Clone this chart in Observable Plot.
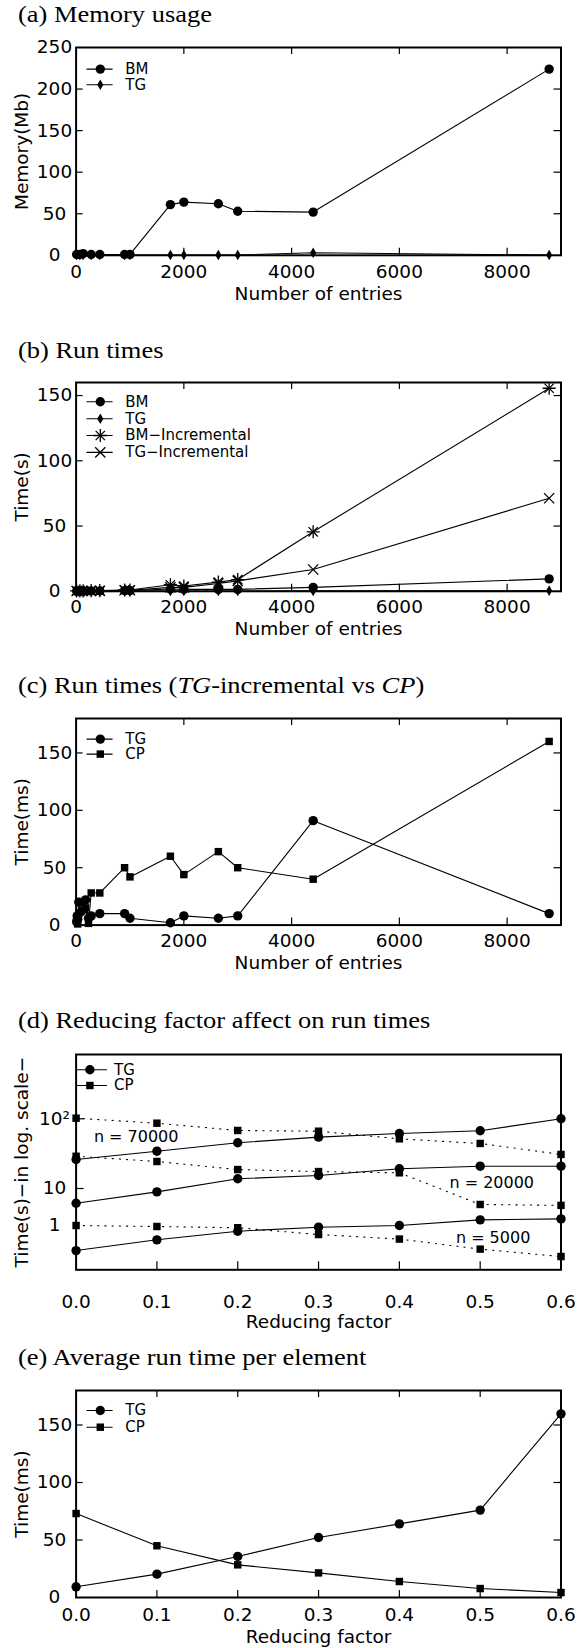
<!DOCTYPE html>
<html><head><meta charset="utf-8">
<script src="https://cdn.jsdelivr.net/npm/d3@7"></script>
<script src="https://cdn.jsdelivr.net/npm/@observablehq/plot@0.6"></script>
<style>
body{margin:0;background:#fff;}
#page{position:relative;width:584px;height:1648px;overflow:hidden;background:#fff;}
.title{position:absolute;left:18px;font-family:"Liberation Serif","Times New Roman",serif;font-size:23px;line-height:24px;white-space:nowrap;color:#000;transform:scaleX(1.15);transform-origin:0 50%;}
.panel{position:absolute;left:0;}
.panel svg{display:block;}
</style></head><body><div id="page"></div>
<script>
// ---------- data ----------
const entries = [10, 70, 130, 280, 440, 900, 1000, 1750, 2000, 2640, 3000, 4400, 8780];
const memoryBM = [1, 1, 2, 1, 1, 1, 1, 61, 64, 62, 53, 52, 224];
const memoryTG = [0.3, 0.3, 0.3, 0.3, 0.3, 0.3, 0.3, 0.3, 0.3, 0.3, 0.3, 3, 0.3];

const runBM = [0.2, 0.2, 0.2, 0.3, 0.3, 0.5, 0.5, 1.8, 1.5, 1.5, 1.5, 3, 9.5];
const runTG = [0.1, 0.1, 0.1, 0.1, 0.1, 0.1, 0.1, 0.2, 0.2, 0.2, 0.2, 0.3, 0.5];
const runBMIncremental = [0.3, 0.3, 0.3, 0.5, 0.5, 1, 1, 5, 4, 7, 9, 45.6, 155.6];
const runTGIncremental = [0.2, 0.2, 0.2, 0.3, 0.3, 0.8, 0.8, 3, 3, 6, 8, 16.7, 71.3];

const entriesC = [10, 20, 30, 50, 100, 175, 230, 280, 440, 900, 1000, 1750, 2000, 2640, 3000, 4400, 8780];
const timeTG_C = [3, 8, 5, 20, 12, 22, 6, 8, 10, 10, 6, 2, 8, 6, 8, 91, 10];
const timeCP_C = [3, 5, 1, 10, 20, 15, 1.5, 28, 28, 50, 42, 60, 44, 64, 50, 40, 160];

const factors = [0, 0.1, 0.2, 0.3, 0.4, 0.5, 0.6];
const tg70000 = [26.1, 34.3, 45.3, 54.5, 61.5, 67.3, 100];
const cp70000 = [102, 86.5, 68, 66.4, 51.6, 44.3, 30.8];
const tg20000 = [4.0, 8.1, 13.8, 15.4, 19.2, 20.9, 20.9];
const cp20000 = [29, 24.4, 18.7, 17.5, 16.8, 3.7, 3.5];
const tg5000 = [0.21, 0.41, 0.70, 0.90, 1.0, 1.42, 1.51];
const cp5000 = [1.0, 0.94, 0.87, 0.57, 0.43, 0.23, 0.145];
const nLabels = ["n = 70000", "n = 20000", "n = 5000"];
const nLabelX = [0.022, 0.462, 0.470];
const nLabelY = [55.8, 12.1, 0.465];

const avgTG = [9.3, 20.3, 35.7, 52.2, 64, 76, 159.7];
const avgCP = [73, 45, 28.4, 21.4, 13.9, 7.8, 4.3];

const entryTicks = [0, 2000, 4000, 6000, 8000];
const factorTicks = [0, 0.1, 0.2, 0.3, 0.4, 0.5, 0.6];
const logTicks = [1, 10, 100];

// ---------- helpers ----------
const W = 584, ML = 75.6, MR = 23.5, MT = 10;
const FONT = "'DejaVu Sans', 'Liberation Sans', Arial, sans-serif";
const FS = 18.5;
const zip = (xs, ys) => xs.map((x, i) => ({x, y: ys[i]}));
const hline = {draw(ctx, l) { ctx.moveTo(0, 0); ctx.lineTo(l, 0); }};
const plain = d => String(d);

const SYM = {
  circle: [{symbol: "circle", r: 4.7, fill: "black"}],
  diamond: [{symbol: "diamond", r: 3.2, fill: "black"}],
  square: [{symbol: "square", r: 4.2, fill: "black"}],
  star: [{symbol: "plus", r: 4.3, fill: "none", stroke: "black"}, {symbol: "times", r: 4.3, fill: "none", stroke: "black"}],
  times: [{symbol: "times", r: 4.7, fill: "none", stroke: "black"}]
};

function panel(o) {
  const frameH = o.frameBottom - o.frameTop;
  const frameW = W - ML - MR;
  const height = MT + frameH + o.mb;
  const tl = o.tickLen ?? 7;
  const tk = {stroke: "black", strokeWidth: 1.2};
  const marks = [];
  if (o.xIn) marks.push(Plot.tickX(o.xIn, {x: d => d, insetTop: frameH - tl, ...tk}));
  if (o.xInTop) marks.push(Plot.tickX(o.xInTop, {x: d => d, insetBottom: frameH - tl, ...tk}));
  if (o.yIn) marks.push(Plot.tickY(o.yIn, {y: d => d, insetRight: frameW - tl, ...tk}));
  if (o.yInRight) marks.push(Plot.tickY(o.yInRight, {y: d => d, insetLeft: frameW - tl, ...tk}));
  marks.push(Plot.axisX(o.xTicks, {anchor: "bottom", tickSize: 0, tickPadding: o.xPad, tickFormat: o.xFormat ?? plain, fontSize: FS, label: null}));
  marks.push(Plot.axisY(o.yTicks, {anchor: "left", tickSize: 0, tickPadding: 21.6, textAnchor: "middle", tickFormat: o.yFormat ?? plain, fontSize: FS, label: null}));
  marks.push(Plot.text([o.xLabel], {text: d => d, frameAnchor: "bottom", dy: o.xLabelDy, textAnchor: "middle", lineAnchor: "middle", fontSize: FS}));
  marks.push(Plot.text([o.yLabel], {text: d => d, frameAnchor: "left", dx: 21.5 - ML, rotate: -90, textAnchor: "middle", lineAnchor: "middle", fontSize: FS}));
  for (const s of o.series) {
    marks.push(Plot.line(s.data, {x: "x", y: "y", stroke: "black", strokeWidth: 1.1, strokeDasharray: s.dash}));
    for (const m of SYM[s.sym]) marks.push(Plot.dot(s.data, {x: "x", y: "y", ...m, strokeWidth: 1.3}));
  }
  if (o.extra) marks.push(...o.extra);
  const L = o.legend;
  o.legendItems.forEach((it, i) => {
    const dy = L.rows[i];
    marks.push(Plot.vector([0], {frameAnchor: "top-left", dx: L.x0, dy, length: L.x1 - L.x0, anchor: "start", shape: hline, stroke: "black", strokeWidth: 1.1}));
    for (const m of SYM[it.sym]) marks.push(Plot.dot([0], {frameAnchor: "top-left", dx: L.xm, dy, ...m, strokeWidth: 1.3}));
    marks.push(Plot.text([it.label], {text: d => d, frameAnchor: "top-left", dx: L.xt, dy, textAnchor: "start", lineAnchor: "middle", fontSize: 15}));
  });
  marks.push(Plot.frame({stroke: "black", strokeWidth: 2}));
  const chart = Plot.plot({
    width: W, height, marginLeft: ML, marginRight: MR, marginTop: MT, marginBottom: o.mb,
    x: o.x, y: o.y,
    style: {fontFamily: FONT, background: "white", color: "black", overflow: "visible"},
    marks
  });
  const div = document.createElement("div");
  div.className = "panel";
  div.style.top = (o.frameTop - MT) + "px";
  div.appendChild(chart);
  document.getElementById("page").appendChild(div);
}

function title(html, baseline) {
  const d = document.createElement("div");
  d.className = "title";
  d.style.top = (baseline - 19.5) + "px";
  d.innerHTML = html;
  document.getElementById("page").appendChild(d);
}

const legStd = (rows) => ({x0: 10.8, x1: 36.1, xm: 24.2, xt: 49.2, rows});
const noZero = (t) => t.filter(v => v !== 0);

// (a)
title("(a) Memory usage", 22.7);
panel({
  frameTop: 46.7, frameBottom: 254.5, mb: 55, xPad: 10, xLabelDy: 38.5,
  x: {domain: [0, 9000]}, y: {domain: [0, 250]},
  xTicks: entryTicks, yTicks: [0, 50, 100, 150, 200, 250],
  xIn: noZero(entryTicks), xInTop: noZero(entryTicks), yIn: [50, 100, 150, 200], yInRight: [50, 100, 150, 200],
  xLabel: "Number of entries", yLabel: "Memory(Mb)",
  series: [{data: zip(entries, memoryBM), sym: "circle"}, {data: zip(entries, memoryTG), sym: "diamond"}],
  legend: legStd([21.6, 37.3]),
  legendItems: [{label: "BM", sym: "circle"}, {label: "TG", sym: "diamond"}]
});

// (b)
title("(b) Run times", 358.3);
panel({
  frameTop: 381.7, frameBottom: 590.5, mb: 55, xPad: 8.3, xLabelDy: 37.5,
  x: {domain: [0, 9000]}, y: {domain: [0, 160]},
  xTicks: entryTicks, yTicks: [0, 50, 100, 150],
  xIn: noZero(entryTicks), xInTop: noZero(entryTicks), yIn: [50, 100, 150], yInRight: [50, 100, 150],
  xLabel: "Number of entries", yLabel: "Time(s)",
  series: [
    {data: zip(entries, runBM), sym: "circle"},
    {data: zip(entries, runTG), sym: "diamond"},
    {data: zip(entries, runBMIncremental), sym: "star"},
    {data: zip(entries, runTGIncremental), sym: "times"}
  ],
  legend: legStd([19.3, 36.2, 53.0, 69.9]),
  legendItems: [
    {label: "BM", sym: "circle"}, {label: "TG", sym: "diamond"},
    {label: "BM\u2212Incremental", sym: "star"}, {label: "TG\u2212Incremental", sym: "times"}
  ]
});

// (c)
title("(c) Run times (<i>TG</i>-incremental vs <i>CP</i>)", 693.3);
panel({
  frameTop: 717.7, frameBottom: 924.3, mb: 55, xPad: 8.8, xLabelDy: 37.7,
  x: {domain: [0, 9000]}, y: {domain: [0, 180]},
  xTicks: entryTicks, yTicks: [0, 50, 100, 150],
  xIn: noZero(entryTicks), xInTop: noZero(entryTicks), yIn: [50, 100, 150], yInRight: [50, 100, 150],
  xLabel: "Number of entries", yLabel: "Time(ms)",
  series: [{data: zip(entriesC, timeTG_C), sym: "circle"}, {data: zip(entriesC, timeCP_C), sym: "square"}],
  legend: legStd([20.6, 35.6]),
  legendItems: [{label: "TG", sym: "circle"}, {label: "CP", sym: "square"}]
});

// (d)
title("(d) Reducing factor affect on run times", 1028.3);
{
  const fTop = 1054, fBot = 1269.3;
  const ann = nLabels.map((t, i) => ({t, x: nLabelX[i], y: nLabelY[i]}));
  panel({
    frameTop: fTop, frameBottom: fBot, mb: 66, xPad: 25, xLabelDy: 52, tickLen: 8,
    x: {domain: [0, 0.6]},
    y: {type: "log", domain: [0.0635, 1, 10, 100, 836],
        range: [fBot, 1225, 1188, 1118.3, fTop].map(v => v - fTop + MT)},
    xTicks: factorTicks, xFormat: d3.format(".1f"), yTicks: logTicks,
    yFormat: d => d === 100 ? "10\u00b2" : String(d),
    xIn: [0.1, 0.2, 0.3, 0.4, 0.5], yIn: [10, 100],
    xLabel: "Reducing factor", yLabel: "Time(s)\u2212in log. scale\u2212",
    series: [
      {data: zip(factors, cp70000), sym: "square", dash: "1.2,6"},
      {data: zip(factors, cp20000), sym: "square", dash: "1.2,6"},
      {data: zip(factors, cp5000), sym: "square", dash: "1.2,6"},
      {data: zip(factors, tg70000), sym: "circle"},
      {data: zip(factors, tg20000), sym: "circle"},
      {data: zip(factors, tg5000), sym: "circle"}
    ],
    extra: [Plot.text(ann, {x: "x", y: "y", text: "t", textAnchor: "start", lineAnchor: "middle", fontSize: 16, fill: "black"})],
    legend: {x0: 0, x1: 30.4, xm: 13.8, xt: 38, rows: [15.3, 31]},
    legendItems: [{label: "TG", sym: "circle"}, {label: "CP", sym: "square"}]
  });
}

// (e)
title("(e) Average run time per element", 1365);
panel({
  frameTop: 1390, frameBottom: 1597, mb: 51, xPad: 10, xLabelDy: 40,
  x: {domain: [0, 0.6]}, y: {domain: [0, 180]},
  xTicks: factorTicks, xFormat: d3.format(".1f"), yTicks: [0, 50, 100, 150],
  xIn: [0.1, 0.2, 0.3, 0.4, 0.5], xInTop: [0.1, 0.2, 0.3, 0.4, 0.5], yIn: [50, 100, 150], yInRight: [50, 100, 150],
  xLabel: "Reducing factor", yLabel: "Time(ms)",
  series: [{data: zip(factors, avgTG), sym: "circle"}, {data: zip(factors, avgCP), sym: "square"}],
  legend: legStd([20, 36.7]),
  legendItems: [{label: "TG", sym: "circle"}, {label: "CP", sym: "square"}]
});
</script>
</body></html>
